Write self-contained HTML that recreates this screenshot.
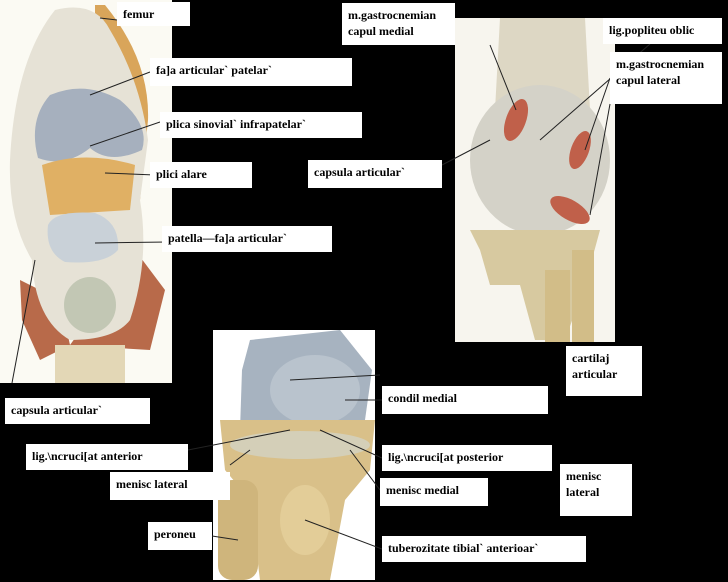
<!DOCTYPE html>
<html><head><meta charset="utf-8"><style>
html,body{margin:0;padding:0;background:#000;}
body{width:728px;height:582px;overflow:hidden;position:relative;font-family:"Liberation Serif",serif;}
.l{position:absolute;background:#fff;font-weight:bold;font-size:12px;color:#000;padding:4px 6px;box-sizing:border-box;line-height:16px;}
svg{position:absolute;left:0;top:0;}
</style></head><body>
<svg width="728" height="582" viewBox="0 0 728 582">
<!-- left image -->
<rect x="0" y="0" width="172" height="383" fill="#fbfaf3"/>
<path d="M95 5 L105 5 Q150 60 148 120 L140 200 L130 220 L95 200Z" fill="#d9a55a"/>
<path d="M20 280 L60 300 L70 345 L40 360 L22 320Z" fill="#b86a4a"/>
<path d="M120 230 L165 290 L150 350 L70 345 L110 290Z" fill="#b86a4a"/>
<path d="M55 10 Q95 0 110 30 Q140 80 148 140 L140 200 Q150 260 130 320 Q115 340 70 340 Q35 320 32 260 Q8 220 10 160 Q15 60 55 10Z" fill="#e6e2d6"/>
<path d="M50 95 Q85 80 120 100 Q150 125 142 150 Q110 165 90 148 Q65 168 38 158 Q28 120 50 95Z" fill="#a6b0be"/>
<path d="M42 165 Q85 150 135 165 L130 210 L50 215Z" fill="#e0b064"/>
<path d="M48 225 Q55 210 95 213 Q120 222 118 250 Q105 265 65 262 Q45 252 48 225Z" fill="#c9d1d8"/>
<ellipse cx="90" cy="305" rx="26" ry="28" fill="#c2c7b4"/>
<rect x="55" y="345" width="70" height="38" fill="#e3d7b6"/>
<!-- right top image -->
<rect x="455" y="18" width="160" height="324" fill="#f7f5ee"/>
<path d="M500 18 L585 18 L590 110 L495 110Z" fill="#ddd7c4"/>
<ellipse cx="540" cy="160" rx="70" ry="75" fill="#d4d2c8"/>
<path d="M470 230 L600 230 L585 285 L565 340 L535 340 L520 285 L490 285 L480 250Z" fill="#d7c9a0"/>
<rect x="545" y="270" width="25" height="72" fill="#d2bd88"/>
<rect x="572" y="250" width="22" height="92" fill="#d2bd88"/>
<ellipse cx="516" cy="120" rx="10" ry="22" fill="#c0604a" transform="rotate(20 516 120)"/>
<ellipse cx="580" cy="150" rx="9" ry="20" fill="#c0604a" transform="rotate(20 580 150)"/>
<ellipse cx="570" cy="210" rx="10" ry="22" fill="#c0604a" transform="rotate(-60 570 210)"/>
<!-- bottom image -->
<rect x="213" y="330" width="162" height="250" fill="#fff"/>
<path d="M250 340 L340 330 L372 370 L365 420 L240 430 L242 370Z" fill="#a7b3c0"/>
<ellipse cx="315" cy="390" rx="45" ry="35" fill="#b9c3cd"/>
<path d="M220 420 L375 420 L370 470 L345 500 L330 580 L260 580 L250 500 L225 470Z" fill="#d9c089"/>
<ellipse cx="300" cy="445" rx="70" ry="14" fill="#d4cfb8"/>
<rect x="218" y="480" width="40" height="100" rx="14" fill="#cfb57c"/>
<ellipse cx="305" cy="520" rx="25" ry="35" fill="#e3cd98"/>
<!-- leader lines -->
<g stroke="#222" stroke-width="1" fill="none">
<line x1="117" y1="20" x2="100" y2="18"/>
<line x1="150" y1="72" x2="90" y2="95"/>
<line x1="160" y1="122" x2="90" y2="146"/>
<line x1="155" y1="175" x2="105" y2="173"/>
<line x1="168" y1="242" x2="95" y2="243"/>
<line x1="12" y1="383" x2="35" y2="260"/>
<line x1="490" y1="45" x2="516" y2="110"/>
<line x1="650" y1="44" x2="540" y2="140"/>
<line x1="610" y1="78" x2="585" y2="150"/>
<line x1="442" y1="165" x2="490" y2="140"/>
<line x1="610" y1="104" x2="590" y2="215"/>
<line x1="382" y1="400" x2="345" y2="400"/>
<line x1="380" y1="375" x2="290" y2="380"/>
<line x1="188" y1="450" x2="290" y2="430"/>
<line x1="382" y1="458" x2="320" y2="430"/>
<line x1="230" y1="465" x2="250" y2="450"/>
<line x1="380" y1="490" x2="350" y2="450"/>
<line x1="212" y1="536" x2="238" y2="540"/>
<line x1="382" y1="549" x2="305" y2="520"/>
</g>
</svg>
<div class="l" style="left:117px;top:2px;width:73px;height:24px;">femur</div>
<div class="l" style="left:150px;top:58px;width:202px;height:28px;">fa]a articular` patelar`</div>
<div class="l" style="left:160px;top:112px;width:202px;height:26px;">plica sinovial` infrapatelar`</div>
<div class="l" style="left:150px;top:162px;width:102px;height:26px;">plici alare</div>
<div class="l" style="left:162px;top:226px;width:170px;height:26px;">patella—fa]a articular`</div>
<div class="l" style="left:5px;top:398px;width:145px;height:26px;">capsula articular`</div>
<div class="l" style="left:342px;top:3px;width:113px;height:42px;">m.gastrocnemian capul medial</div>
<div class="l" style="left:603px;top:18px;width:119px;height:26px;">lig.popliteu oblic</div>
<div class="l" style="left:610px;top:52px;width:112px;height:52px;">m.gastrocnemian capul lateral</div>
<div class="l" style="left:308px;top:160px;width:134px;height:28px;">capsula articular`</div>
<div class="l" style="left:566px;top:346px;width:76px;height:50px;">cartilaj articular</div>
<div class="l" style="left:382px;top:386px;width:166px;height:28px;">condil medial</div>
<div class="l" style="left:26px;top:444px;width:162px;height:26px;">lig.\ncruci[at anterior</div>
<div class="l" style="left:382px;top:445px;width:170px;height:26px;">lig.\ncruci[at posterior</div>
<div class="l" style="left:110px;top:472px;width:120px;height:28px;">menisc lateral</div>
<div class="l" style="left:380px;top:478px;width:108px;height:28px;">menisc medial</div>
<div class="l" style="left:560px;top:464px;width:72px;height:52px;">menisc lateral</div>
<div class="l" style="left:148px;top:522px;width:64px;height:28px;">peroneu</div>
<div class="l" style="left:382px;top:536px;width:204px;height:26px;">tuberozitate tibial` anterioar`</div>
</body></html>
